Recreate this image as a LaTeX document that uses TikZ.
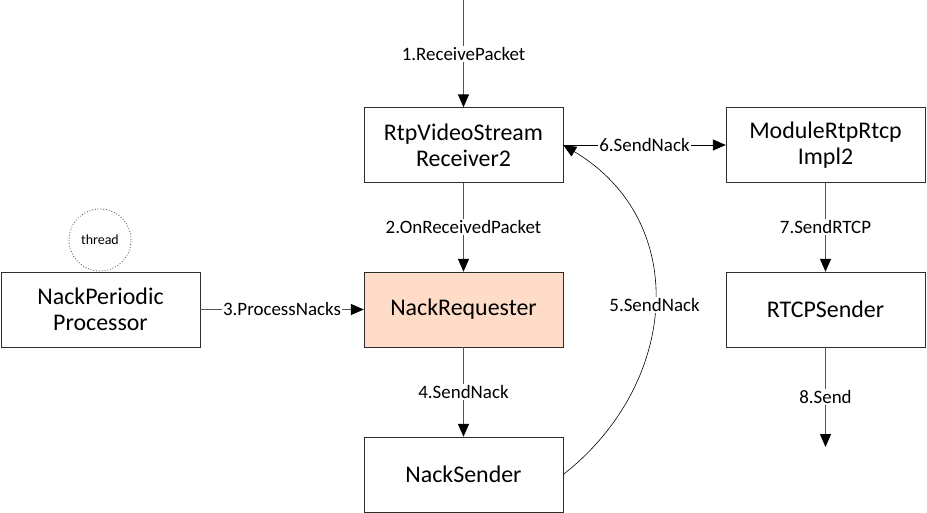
\documentclass[tikz,border=0pt]{standalone}
\usepackage{fontspec}
\setmainfont{Carlito}
\usetikzlibrary{arrows,arrows.meta}
\usetikzlibrary{shapes}
\usetikzlibrary{backgrounds,positioning}
\definecolor{reqfill}{RGB}{255,220,200}
\definecolor{linegray}{RGB}{85,85,85}
\definecolor{boxline}{RGB}{45,45,45}
\begin{document}
\begin{tikzpicture}[x=1bp,y=-1bp]
      \useasboundingbox (0,0) rectangle (927,513);
      \begin{scope}[shape=rectangle,minimum width=199bp,minimum height=75bp,text width=190bp,align=center,font=\fontsize{24}{26}\selectfont]
          \tikzstyle{every node}=[draw=boxline]
          \node (receiver) at (463.5,145)   {RtpVideoStream\\Receiver2};
          \node (rtprtcp)  at (825.5,145)   {ModuleRtpRtcp\\Impl2};
          \node (periodic) at (100.5,309.5) {NackPeriodic\\Processor};
          \node[fill=reqfill] (requester) at (463.5,309.5) {NackRequester};
          \node (rtcpsend) at (825.5,309.5) {RTCPSender};
          \node (nsender)  at (463.5,474.5) {NackSender};
      \end{scope}

      \node[draw=black!75, dotted, thick, circle, minimum size=62bp, font=\fontsize{14}{16}\selectfont] (thread) at (100,240) {thread};

      \coordinate (pktin)   at (463.5,0);
      \coordinate (sendout) at (825.5,447);

      \tikzstyle{call}=[-{Triangle[width=11pt,length=13pt,color=black]},linegray,line width=1.3pt]
      \tikzstyle{lab}=[fill=white,text=black,inner sep=1.5pt,font=\fontsize{19}{21}\selectfont]

      \draw[call] (pktin)     -- (receiver)  node[lab, midway] {1.ReceivePacket};
      \draw[call] (receiver)  -- (requester) node[lab, midway] {2.OnReceivedPacket};
      \draw[call] (periodic)  -- (requester) node[lab, midway] {3.ProcessNacks};
      \draw[call] (requester) -- (nsender)   node[lab, midway] {4.SendNack};
      \draw[-{Triangle[width=11pt,length=13pt]},black,line width=0.6pt] (nsender.east) .. controls (678,385) and (692,222) .. (receiver.east) node[lab, pos=0.5] {5.SendNack};
      \draw[call,black,line width=0.8pt] (receiver) -- (rtprtcp)  node[lab, midway] {6.SendNack};
      \draw[call] (rtprtcp)   -- (rtcpsend)  node[lab, midway] {7.SendRTCP};
      \draw[call] (rtcpsend)  -- (sendout)   node[lab, midway] {8.Send};
  \end{tikzpicture}
\end{document}
